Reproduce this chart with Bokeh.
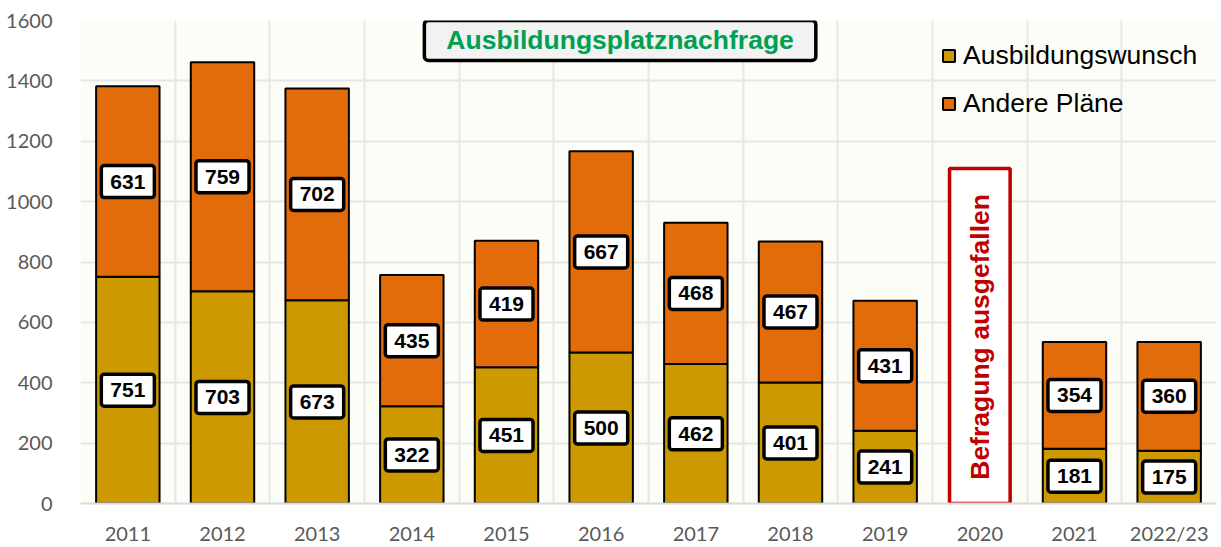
import math
from bokeh.plotting import figure
from bokeh.models import (ColumnDataSource, FactorRange, Range1d, FixedTicker,
                          Label, Legend)
from bokeh.core.properties import value
from bokeh.embed import file_html
from bokeh.resources import INLINE

# ---------------- data ----------------
categories = ["2011", "2012", "2013", "2014", "2015", "2016", "2017", "2018",
              "2019", "2020", "2021", "2022/23"]
ausbildungswunsch = [751, 703, 673, 322, 451, 500, 462, 401, 241, None, 181, 175]
andere_plaene = [631, 759, 702, 435, 419, 667, 468, 467, 431, None, 354, 360]
y_ticks = [0, 200, 400, 600, 800, 1000, 1200, 1400, 1600]
series_names = ["Ausbildungswunsch", "Andere Pläne"]
title_text = "Ausbildungsplatznachfrage"
note_category = "2020"
note_text = "Befragung ausgefallen"

# ---------------- styles ----------------
C_WUNSCH = "#CC9900"
C_ANDERE = "#E36C0A"
C_GRID = "#E6E6E6"
C_TICK = "#595959"
C_NOTE = "#C00000"
C_TITLE = "#00A050"
BG = "#FDFDF7"
NOTE_TOP = 1110
NOTE_MID = 552
TITLE_X = 5.70
TITLE_Y = 1534

# bars source (skip missing year)
idx = [i for i, v in enumerate(ausbildungswunsch) if v is not None]
bars = ColumnDataSource(dict(
    x=[categories[i] for i in idx],
    w=[ausbildungswunsch[i] for i in idx],
    a=[andere_plaene[i] for i in idx],
))

labels = ColumnDataSource(dict(
    x=[categories[i] for i in idx] * 2,
    y=[ausbildungswunsch[i] / 2 for i in idx]
      + [ausbildungswunsch[i] + andere_plaene[i] / 2 for i in idx],
    t=[str(ausbildungswunsch[i]) for i in idx] + [str(andere_plaene[i]) for i in idx],
))

p = figure(width=1221, height=547, output_backend="svg", toolbar_location=None,
           x_range=FactorRange(factors=categories, range_padding=0),
           y_range=Range1d(0, 1600),
           min_border_left=80, min_border_right=5, min_border_top=20,
           min_border_bottom=43)
p.background_fill_color = BG
p.border_fill_color = "white"
p.outline_line_color = None
p.title.visible = False

# grids
p.ygrid.ticker = FixedTicker(ticks=y_ticks)
p.ygrid.grid_line_color = C_GRID
p.ygrid.grid_line_width = 2
p.xgrid.ticker = FixedTicker(ticks=list(range(len(categories) + 1)))
p.xgrid.grid_line_color = C_GRID
p.xgrid.grid_line_width = 2

# axes
p.yaxis.ticker = FixedTicker(ticks=y_ticks)
p.yaxis.axis_line_color = None
p.yaxis.major_tick_line_color = None
p.yaxis.minor_tick_line_color = None
p.yaxis.major_label_standoff = 22
p.yaxis.major_label_text_font = "Lato"
p.yaxis.major_label_text_font_size = "20px"
p.yaxis.major_label_text_color = C_TICK

p.xaxis.axis_line_color = "#D9D9D9"
p.xaxis.axis_line_width = 2
p.xaxis.major_tick_line_color = None
p.xaxis.minor_tick_line_color = None
p.xaxis.major_label_standoff = 11
p.xaxis.major_label_text_font = "Lato"
p.xaxis.major_label_text_font_size = "20px"
p.xaxis.major_label_text_color = C_TICK

# stacked bars
rs = p.vbar_stack(["w", "a"], x="x", width=0.67, source=bars,
                  color=[C_WUNSCH, C_ANDERE], line_color="black", line_width=2)

# data labels
p.text(x="x", y="y", text="t", source=labels,
       text_font=value("Liberation Sans"), text_font_style="bold",
       text_font_size="21px", text_color="black",
       text_align="center", text_baseline="middle",
       background_fill_color="white", border_line_color="black",
       border_line_width=3.5, border_radius=3,
       padding=dict(left=9, right=9, top=9, bottom=9))

# 2020 note
note_src = ColumnDataSource(dict(x=[note_category], top=[NOTE_TOP], y=[NOTE_MID],
                                 t=[note_text]))
p.vbar(x="x", top="top", bottom=0, width=0.64, source=note_src,
       fill_color="white", line_color=C_NOTE, line_width=3.5)
p.text(x="x", y="y", text="t", source=note_src, angle=math.pi / 2,
       text_font=value("Liberation Sans"), text_font_style="bold",
       text_font_size="26.5px", text_color=C_NOTE,
       text_align="center", text_baseline="middle")

# title box
p.add_layout(Label(x=TITLE_X, y=TITLE_Y, text=title_text,
                   text_font="Liberation Sans", text_font_style="bold",
                   text_font_size="26.5px", text_color=C_TITLE,
                   text_align="center", text_baseline="middle",
                   background_fill_color="#F2F2F2", border_line_color="black",
                   border_line_width=3.5, border_radius=4,
                   padding=dict(left=22, right=22, top=5, bottom=5)))

# legend
legend = Legend(items=[(series_names[0], [rs[0]]), (series_names[1], [rs[1]])],
                location=(861, 384), padding=0, margin=0, spacing=17,
                glyph_width=15, glyph_height=15, label_height=30,
                label_standoff=7, label_text_font="Liberation Sans",
                label_text_font_size="26.5px", label_text_color="black",
                background_fill_alpha=0, border_line_alpha=0)
p.add_layout(legend)

open("out.html", "w").write(file_html(p, INLINE))
